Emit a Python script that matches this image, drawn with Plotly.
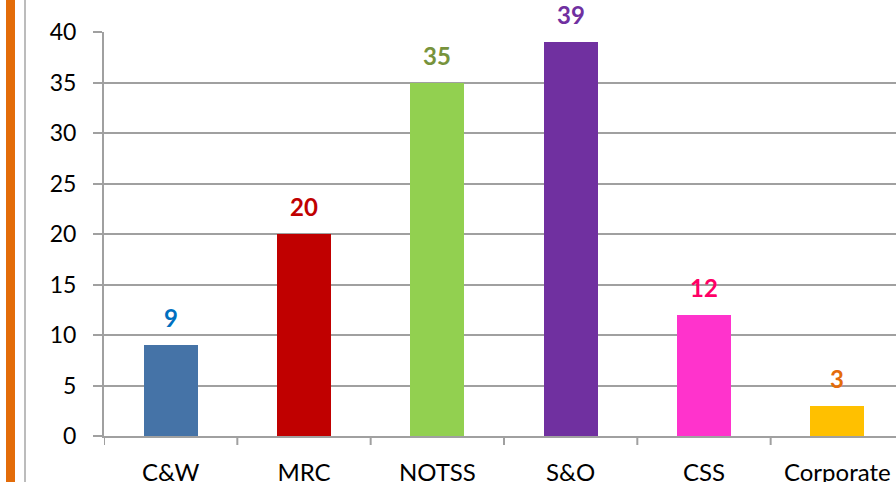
import plotly.graph_objects as go

categories = ["C&W", "MRC", "NOTSS", "S&O", "CSS", "Corporate"]
values = [9, 20, 35, 39, 12, 3]
bar_colors = ["#4573A7", "#C00000", "#92D050", "#7030A0", "#FF33CC", "#FFC000"]
label_colors = ["#0070C0", "#C00000", "#77933C", "#7030A0", "#FF0066", "#E46C0A"]
y_ticks = [0, 5, 10, 15, 20, 25, 30, 35, 40]

W, H = 896, 482
ml, mr, mt, mb = 104, 0, 32, 46
pw = W - ml - mr
ph = H - mt - mb
cat_w = 133.33
x_max = -0.5 + pw / cat_w
FONT = "Lato, Carlito, sans-serif"

fig = go.Figure(go.Bar(
    x=list(range(len(categories))),
    y=values,
    marker=dict(color=bar_colors, line=dict(width=0)),
    width=0.405,
    cliponaxis=False,
    hoverinfo="skip",
))

for i, (v, c) in enumerate(zip(values, label_colors)):
    fig.add_annotation(x=i, y=v, xref="x", yref="y", text=f"<b>{v}</b>",
                       showarrow=False, yanchor="bottom", yshift=11,
                       font=dict(family=FONT, size=24, color=c))

grey = "#A0A0A0"
fig.update_layout(
    width=W, height=H,
    margin=dict(l=ml, r=mr, t=mt, b=mb, pad=0, autoexpand=False),
    paper_bgcolor="white", plot_bgcolor="white",
    showlegend=False,
    bargap=0,
    font=dict(family=FONT, size=23, color="black"),
)
fig.update_xaxes(
    range=[-0.5, x_max], automargin=False,
    tickmode="array", tickvals=list(range(len(categories))), ticktext=categories,
    showgrid=False, showline=True, linecolor=grey, linewidth=2,
    ticks="", tickfont=dict(size=24), ticklabelstandoff=14,
    zeroline=False,
)
fig.update_yaxes(
    range=[0, 40], tickvals=y_ticks, automargin=False,
    showgrid=True, gridcolor=grey, gridwidth=2,
    showline=True, linecolor=grey, linewidth=2,
    ticks="outside", ticklen=9, tickcolor=grey, tickwidth=2,
    tickfont=dict(size=23), ticklabelstandoff=12,
    zeroline=False,
)

# category boundary tick marks on x axis (between categories)
for i in range(len(categories)):
    b = i - 0.5
    fig.add_shape(type="line", xref="x", yref="paper", x0=b, x1=b,
                  y0=0, y1=-9 / ph, line=dict(color=grey, width=2))

# decorative orange stripe and grey line at left edge
fig.add_shape(type="rect", xref="paper", yref="paper",
              x0=(6 - ml) / pw, x1=(15 - ml) / pw, y0=-mb / ph - 0.05, y1=1 + mt / ph + 0.05,
              fillcolor="#E36C09", line=dict(width=0), layer="above")
fig.add_shape(type="line", xref="paper", yref="paper",
              x0=(25 - ml) / pw, x1=(25 - ml) / pw, y0=-mb / ph - 0.05, y1=1 + mt / ph + 0.05,
              line=dict(color="#A6A6A6", width=1.5))

fig.write_html("out.html", config={"displayModeBar": False},
               post_script="document.body.style.margin='0';document.body.style.overflow='hidden';")
